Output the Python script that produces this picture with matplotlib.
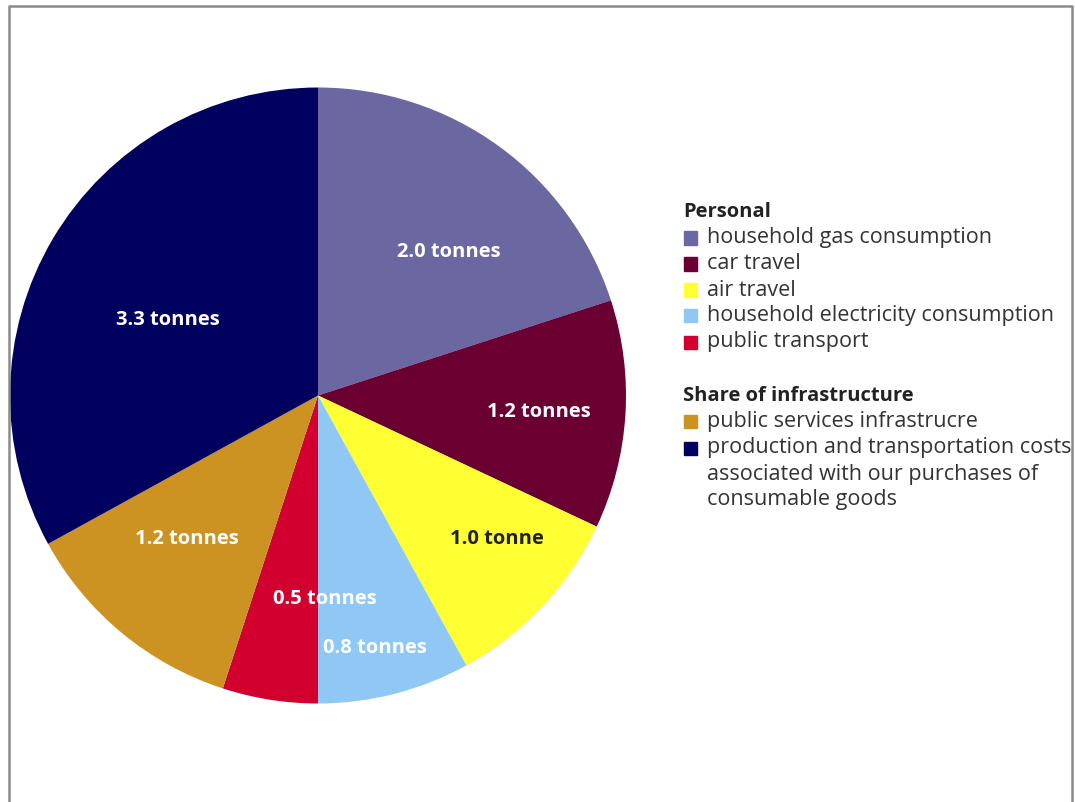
import matplotlib
matplotlib.use("Agg")
import matplotlib.pyplot as plt
from matplotlib.patches import Rectangle
import numpy as np

# data
categories = ["household gas consumption", "car travel", "air travel",
              "household electricity consumption", "public transport",
              "public services infrastrucre",
              "production and transportation costs\nassociated with our purchases of\nconsumable goods"]
groups = ["Personal"] * 5 + ["Share of infrastructure"] * 2
tonnes = [2.0, 1.2, 1.0, 0.8, 0.5, 1.2, 3.3]
labels = ["2.0 tonnes", "1.2 tonnes", "1.0 tonne", "0.8 tonnes",
          "0.5 tonnes", "1.2 tonnes", "3.3 tonnes"]
colors = ["#6a67a1", "#6a0032", "#ffff33", "#8fc8f4", "#d2002f", "#cc9322", "#00005f"]

# label layout (radius fraction, angle shift in degrees)
lab_r = [0.63, 0.72, 0.745, 0.84, 0.66, 0.63, 0.545]
lab_shift = [-6.4, -0.7, 4.5, -1.7, 11, -2.8, 3.9]
lab_col = ["white", "white", "#222222", "white", "white", "white", "white"]

W, H = 1075, 802
plt.rcParams["font.family"] = ["Open Sans", "DejaVu Sans"]
fig = plt.figure(figsize=(W / 100, H / 100), dpi=100)

def fx(x):
    return x / W

def fy(y):
    return 1 - y / H

ax = fig.add_axes([fx(10), fy(703.5), 616 / W, 616 / H])
wedges, _ = ax.pie(tonnes, colors=colors, startangle=90, counterclock=False,
                   radius=1.0, wedgeprops=dict(linewidth=0))
ax.set_xlim(-1, 1)
ax.set_ylim(-1, 1)
ax.set_aspect("equal")
ax.axis("off")

for w, lab, r, s, c in zip(wedges, labels, lab_r, lab_shift, lab_col):
    th = np.deg2rad((w.theta1 + w.theta2) / 2 + s)
    ax.text(r * np.cos(th), r * np.sin(th), lab, ha="center", va="center",
            fontsize=14.5, fontweight="bold", color=c)

# legend
y = 212
cur = None
for cat, g, col in zip(categories, groups, colors):
    if g != cur:
        if cur is not None:
            y += 28
        fig.text(fx(683), fy(y), g, fontsize=14.5, fontweight="bold",
                 color="#222222", va="center", ha="left")
        y += 26
        cur = g
    fig.patches.append(Rectangle((fx(684), fy(y + 6.5)), 13 / W, 13 / H,
                                 transform=fig.transFigure, color=col))
    for ln in cat.split("\n"):
        fig.text(fx(707), fy(y), ln, fontsize=15.5, color="#333333",
                 va="center", ha="left")
        y += 26

# frame
fig.add_artist(plt.Line2D([fx(9), fx(9), fx(1072), fx(1072)],
                          [0, fy(6), fy(6), 0], transform=fig.transFigure,
                          color="#8a8a8a", linewidth=1.8))

fig.savefig("out.png", dpi=100)
